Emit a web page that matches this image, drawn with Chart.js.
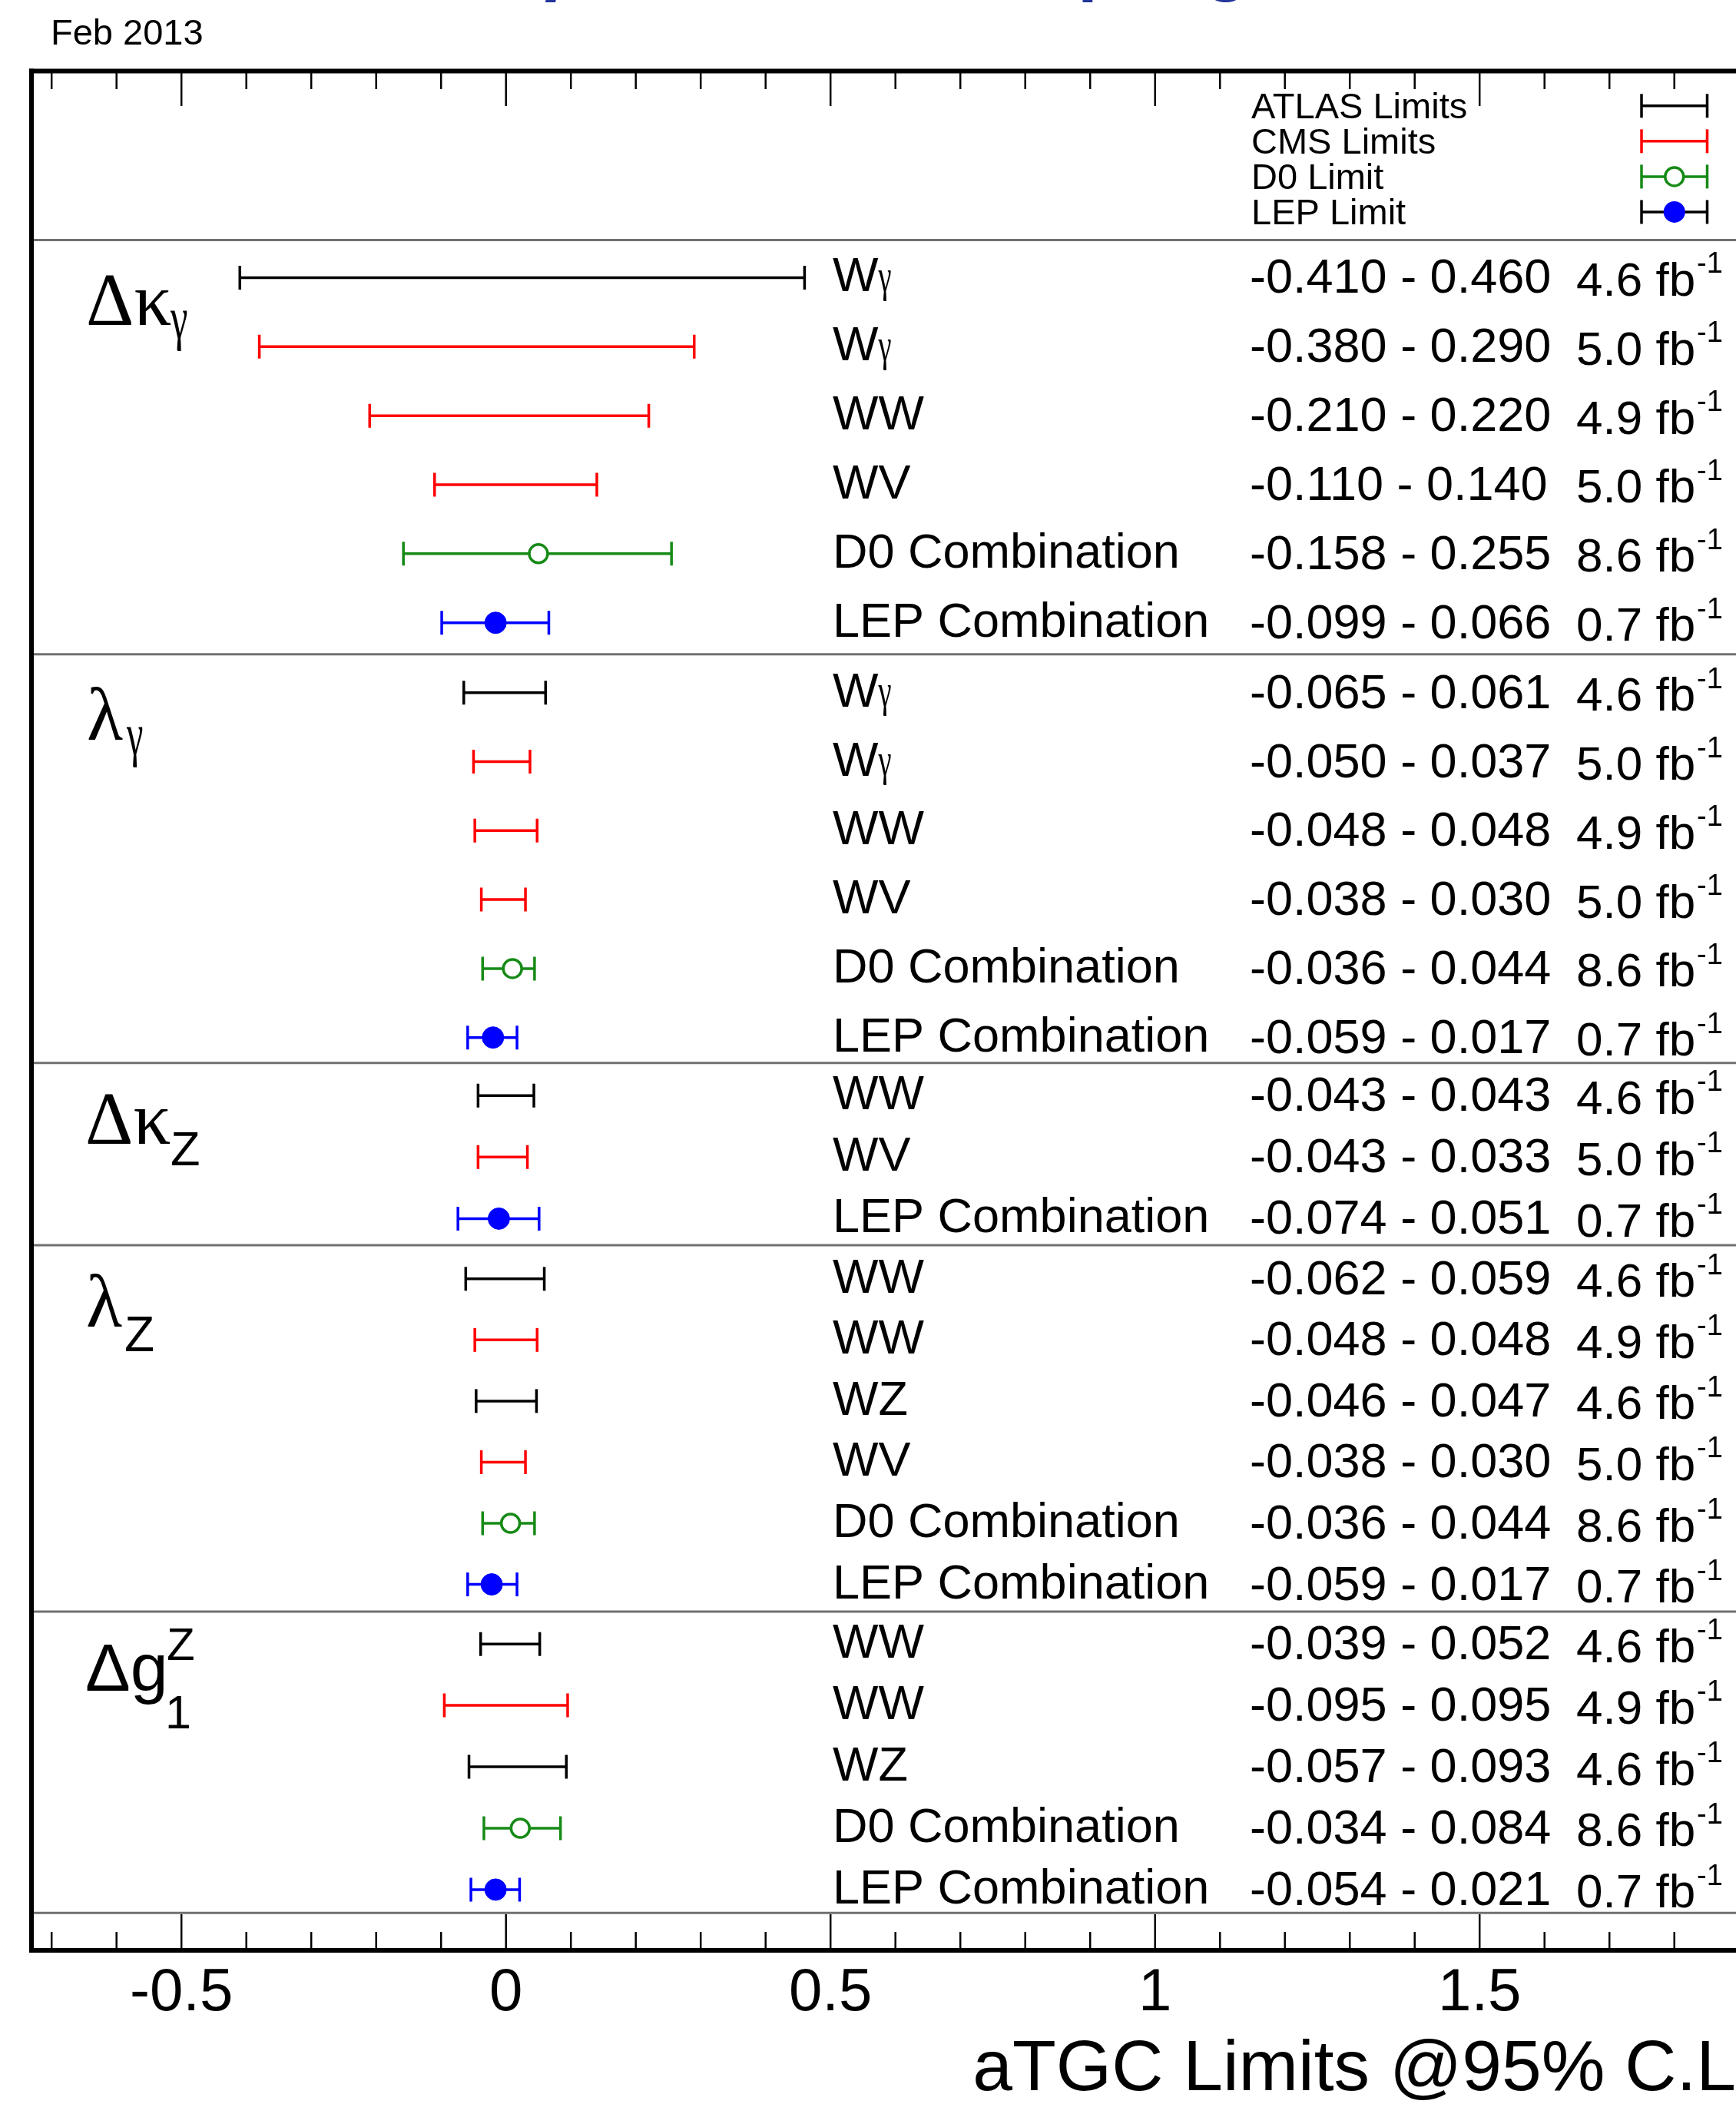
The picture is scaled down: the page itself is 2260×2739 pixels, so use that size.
<!DOCTYPE html>
<html>
<head>
<meta charset="utf-8">
<script src="https://cdn.jsdelivr.net/npm/chart.js@4.4.1/dist/chart.umd.min.js"></script>
<style>
html,body{margin:0;padding:0;background:#fff;overflow:hidden}
canvas{display:block}
</style>
</head>
<body>
<canvas id="c" width="2260" height="2739" style="width:2260px;height:2739px"></canvas>
<script>
// ================= DATA =================
const xTickLabels = [-0.5, 0, 0.5, 1, 1.5];
const legendLabels = ['ATLAS Limits', 'CMS Limits', 'D0 Limit', 'LEP Limit'];
const legendExp = ['ATLAS', 'CMS', 'D0', 'LEP'];

// Delta kappa_gamma
const dkg_proc = ['Wγ', 'Wγ', 'WW', 'WV', 'D0 Combination', 'LEP Combination'];
const dkg_exp  = ['ATLAS', 'CMS', 'CMS', 'CMS', 'D0', 'LEP'];
const dkg_lo   = [-0.410, -0.380, -0.210, -0.110, -0.158, -0.099];
const dkg_hi   = [0.460, 0.290, 0.220, 0.140, 0.255, 0.066];
const dkg_best = [null, null, null, null, 0.050, -0.016];
const dkg_lumi = ['4.6', '5.0', '4.9', '5.0', '8.6', '0.7'];

// lambda_gamma
const lg_proc = ['Wγ', 'Wγ', 'WW', 'WV', 'D0 Combination', 'LEP Combination'];
const lg_exp  = ['ATLAS', 'CMS', 'CMS', 'CMS', 'D0', 'LEP'];
const lg_lo   = [-0.065, -0.050, -0.048, -0.038, -0.036, -0.059];
const lg_hi   = [0.061, 0.037, 0.048, 0.030, 0.044, 0.017];
const lg_best = [null, null, null, null, 0.010, -0.020];
const lg_lumi = ['4.6', '5.0', '4.9', '5.0', '8.6', '0.7'];

// Delta kappa_Z
const dkz_proc = ['WW', 'WV', 'LEP Combination'];
const dkz_exp  = ['ATLAS', 'CMS', 'LEP'];
const dkz_lo   = [-0.043, -0.043, -0.074];
const dkz_hi   = [0.043, 0.033, 0.051];
const dkz_best = [null, null, -0.011];
const dkz_lumi = ['4.6', '5.0', '0.7'];

// lambda_Z
const lz_proc = ['WW', 'WW', 'WZ', 'WV', 'D0 Combination', 'LEP Combination'];
const lz_exp  = ['ATLAS', 'CMS', 'ATLAS', 'CMS', 'D0', 'LEP'];
const lz_lo   = [-0.062, -0.048, -0.046, -0.038, -0.036, -0.059];
const lz_hi   = [0.059, 0.048, 0.047, 0.030, 0.044, 0.017];
const lz_best = [null, null, null, null, 0.007, -0.022];
const lz_lumi = ['4.6', '4.9', '4.6', '5.0', '8.6', '0.7'];

// Delta g1^Z
const dg_proc = ['WW', 'WW', 'WZ', 'D0 Combination', 'LEP Combination'];
const dg_exp  = ['ATLAS', 'CMS', 'ATLAS', 'D0', 'LEP'];
const dg_lo   = [-0.039, -0.095, -0.057, -0.034, -0.054];
const dg_hi   = [0.052, 0.095, 0.093, 0.084, 0.021];
const dg_best = [null, null, null, 0.022, -0.016];
const dg_lumi = ['4.6', '4.9', '4.6', '8.6', '0.7'];

// ================= STYLE / LAYOUT =================
const SANS = '"Liberation Sans", Arial, Helvetica, sans-serif';
const SERIF = '"Liberation Serif", "Times New Roman", serif';
const GREEN = '#168a16';
const expColor = { ATLAS: '#000000', CMS: '#ff0000', D0: GREEN, LEP: '#0000ff' };
const legendBarColor = { ATLAS: '#000000', CMS: '#ff0000', D0: GREEN, LEP: '#000000' };

const sections = [
  { id: 's1', proc: dkg_proc, exp: dkg_exp, lo: dkg_lo, hi: dkg_hi, best: dkg_best, lumi: dkg_lumi },
  { id: 's2', proc: lg_proc,  exp: lg_exp,  lo: lg_lo,  hi: lg_hi,  best: lg_best,  lumi: lg_lumi },
  { id: 's3', proc: dkz_proc, exp: dkz_exp, lo: dkz_lo, hi: dkz_hi, best: dkz_best, lumi: dkz_lumi },
  { id: 's4', proc: lz_proc,  exp: lz_exp,  lo: lz_lo,  hi: lz_hi,  best: lz_best,  lumi: lz_lumi },
  { id: 's5', proc: dg_proc,  exp: dg_exp,  lo: dg_lo,  hi: dg_hi,  best: dg_best,  lumi: dg_lumi }
];

// vertical stacking of the panels (weights = relative heights)
const panelLayout = {
  yLeg:  { w: 220.0, order: 7, min: -0.983, max: 3.794 },
  s1:    { w: 539.3, order: 6, min: -0.544, max: 5.457 },
  s2:    { w: 532.0, order: 5, min: -0.556, max: 5.369 },
  s3:    { w: 237.3, order: 4, min: -0.529, max: 2.433 },
  s4:    { w: 476.9, order: 3, min: -0.549, max: 5.445 },
  s5:    { w: 392.3, order: 2, min: -0.527, max: 4.380 },
  strip: { w: 48.7,  order: 1, min: 0, max: 1 }
};

const xRange = [-0.731, 1.895];

// ================= DATASETS =================
const datasets = [];
sections.forEach(sec => {
  sec.lo.forEach((lo, i) => {
    const col = expColor[sec.exp[i]];
    datasets.push({
      showLine: true,
      data: [{ x: lo, y: i }, { x: sec.hi[i], y: i }],
      yAxisID: sec.id, xAxisID: 'x',
      borderColor: col, borderWidth: 3.5,
      pointStyle: 'line', pointRotation: 90, pointRadius: 15.5,
      pointBorderColor: col, pointBorderWidth: 3.5,
      order: 2
    });
  });
  sec.best.forEach((b, i) => {
    if (b === null) return;
    const e = sec.exp[i];
    const open = (e === 'D0');
    datasets.push({
      data: [{ x: b, y: i }],
      yAxisID: sec.id, xAxisID: 'x',
      pointStyle: 'circle',
      pointRadius: open ? 12 : 14,
      pointBackgroundColor: open ? '#ffffff' : expColor[e],
      pointBorderColor: expColor[e],
      pointBorderWidth: open ? 3.5 : 1,
      order: 1
    });
  });
});

// ================= HELPERS =================
function put(ctx, s, x, y, size, fam, sx) {
  ctx.save();
  ctx.font = size + 'px ' + fam;
  ctx.textBaseline = 'alphabetic';
  ctx.textAlign = 'left';
  ctx.translate(x, y);
  ctx.scale(sx || 1, 1);
  ctx.fillText(s, 0, 0);
  const w = ctx.measureText(s).width * (sx || 1);
  ctx.restore();
  return w;
}
function drawProc(ctx, s, x, y, size) {
  const parts = s.split(/(γ)/);
  let cx = x;
  parts.forEach(p => {
    if (!p) return;
    if (p === 'γ') cx += put(ctx, p, cx, y - 0.5, size * 0.94, SERIF, 0.65);
    else cx += put(ctx, p, cx, y, size, SANS);
  });
}
function hline(ctx, x1, x2, y) { ctx.beginPath(); ctx.moveTo(x1, y); ctx.lineTo(x2, y); ctx.stroke(); }
function vline(ctx, x, y1, y2) { ctx.beginPath(); ctx.moveTo(x, y1); ctx.lineTo(x, y2); ctx.stroke(); }

const sectionLabel = {
  s1: (ctx, L, T) => { put(ctx, 'Δκ', L + 71, T + 110.5, 97, SERIF); put(ctx, 'γ', L + 181, T + 127.5, 78, SERIF, 0.65); },
  s2: (ctx, L, T) => { put(ctx, 'λ', L + 72, T + 110.7, 97, SERIF); put(ctx, 'γ', L + 124, T + 129.7, 78, SERIF, 0.62); },
  s3: (ctx, L, T) => { put(ctx, 'Δκ', L + 70, T + 104.7, 97, SERIF); put(ctx, 'Z', L + 181, T + 132.7, 63, SANS); },
  s4: (ctx, L, T) => { put(ctx, 'λ', L + 71, T + 105.4, 97, SERIF); put(ctx, 'Z', L + 121, T + 137.4, 64, SANS); },
  s5: (ctx, L, T) => { put(ctx, 'Δg', L + 70, T + 102.5, 88, SANS); put(ctx, 'Z', L + 176, T + 62.5, 60, SANS); put(ctx, '1', L + 174, T + 151.5, 61, SANS); }
};

// ================= PLUGIN =================
const decor = {
  id: 'decor',
  beforeDatasetsDraw(chart) {
    const ctx = chart.ctx, ca = chart.chartArea, xs = chart.scales.x;
    ctx.save();
    // panel separators
    ctx.strokeStyle = '#707070'; ctx.lineWidth = 3;
    ['s1', 's2', 's3', 's4', 's5', 'strip'].forEach(id => hline(ctx, ca.left, ca.right, chart.scales[id].top));
    // inward ticks, top and bottom
    ctx.strokeStyle = '#000'; ctx.lineWidth = 2.5;
    for (let k = -7; k <= 18; k++) {
      const v = k / 10;
      const px = xs.getPixelForValue(v);
      if (px < ca.left + 4 || px > ca.right) continue;
      const major = xTickLabels.some(t => Math.abs(t - v) < 1e-9);
      vline(ctx, px, ca.top, ca.top + (major ? 45.5 : 23.5));
      vline(ctx, px, ca.bottom, ca.bottom - (major ? 47 : 24));
    }
    ctx.restore();
  },
  afterDraw(chart) {
    const ctx = chart.ctx, ca = chart.chartArea;
    ctx.save();
    ctx.fillStyle = '#000';

    // frame
    ctx.strokeStyle = '#000'; ctx.lineWidth = 6;
    hline(ctx, ca.left - 3, ca.right, ca.top);
    hline(ctx, ca.left - 3, ca.right, ca.bottom);
    vline(ctx, ca.left, ca.top - 3, ca.bottom + 3);

    // date
    put(ctx, 'Feb 2013', 66, 58, 47, SANS);

    // (cropped) main title, only descenders visible
    ctx.save();
    ctx.font = 'bold 93px ' + SANS;
    const pre = ctx.measureText('WWγ and WWZ Cou').width;
    ctx.fillStyle = '#223399';
    ctx.textBaseline = 'alphabetic';
    ctx.fillText('WWγ and WWZ Couplings', 1416 - pre - 13, -16);
    ctx.restore();

    // section labels + row texts
    sections.forEach(sec => {
      const ys = chart.scales[sec.id];
      sectionLabel[sec.id](ctx, ca.left, ys.top);
      sec.proc.forEach((p, i) => {
        const cy = ys.getPixelForValue(i);
        drawProc(ctx, p, 1084, cy + 18, 63);
        put(ctx, sec.lo[i].toFixed(3) + ' - ' + sec.hi[i].toFixed(3), 1627, cy + 20, 63, SANS);
        const w = put(ctx, sec.lumi[i] + ' fb', 2052, cy + 23.5, 62, SANS);
        put(ctx, '-1', 2052 + w + 2, cy - 6, 38, SANS);
      });
    });

    // legend
    const yl = chart.scales.yLeg;
    const lx1 = 2137, lx2 = 2222.5, lxc = (lx1 + lx2) / 2;
    legendLabels.forEach((lab, i) => {
      const cy = yl.getPixelForValue(i);
      ctx.fillStyle = '#000';
      put(ctx, lab, 1629, cy + 16.5, 47, SANS);
      const e = legendExp[i];
      ctx.strokeStyle = legendBarColor[e]; ctx.lineWidth = 3.5;
      hline(ctx, lx1, lx2, cy);
      vline(ctx, lx1, cy - 15.5, cy + 15.5);
      vline(ctx, lx2, cy - 15.5, cy + 15.5);
      if (e === 'D0') {
        ctx.beginPath(); ctx.arc(lxc, cy, 12, 0, Math.PI * 2);
        ctx.fillStyle = '#fff'; ctx.fill();
        ctx.strokeStyle = GREEN; ctx.stroke();
      } else if (e === 'LEP') {
        ctx.beginPath(); ctx.arc(lxc, cy, 14, 0, Math.PI * 2);
        ctx.fillStyle = expColor.LEP; ctx.fill();
      }
    });
    ctx.restore();
  }
};

// ================= SCALES =================
const scales = {
  x: {
    type: 'linear', position: 'bottom',
    min: xRange[0], max: xRange[1],
    afterBuildTicks: ax => { ax.ticks = xTickLabels.map(v => ({ value: v })); },
    afterFit: ax => { ax.height = 200; ax.paddingLeft = 0; ax.paddingRight = 0; ax.paddingTop = 0; ax.paddingBottom = 0; },
    grid: { display: false },
    border: { display: false },
    ticks: {
      color: '#000', padding: 2, maxRotation: 0, autoSkip: false,
      font: { family: SANS, size: 78, lineHeight: 1.2 },
      callback: v => String(v)
    },
    title: {
      display: true, text: 'aTGC Limits @95% C.L', align: 'end', color: '#000',
      font: { family: SANS, size: 93, lineHeight: 0.9 },
      padding: { top: 0, bottom: 1.4 }
    }
  }
};
Object.keys(panelLayout).forEach(id => {
  const p = panelLayout[id];
  scales[id] = {
    type: 'linear', position: 'left', stack: 'rows', stackWeight: p.w, weight: p.order,
    reverse: true, min: p.min, max: p.max, display: false
  };
});

new Chart(document.getElementById('c'), {
  type: 'scatter',
  data: { datasets },
  options: {
    responsive: false, maintainAspectRatio: false, devicePixelRatio: 1,
    animation: false, events: [],
    layout: { autoPadding: false, padding: { left: 41, right: 0, top: 92.5, bottom: 0 } },
    plugins: { legend: { display: false }, tooltip: { enabled: false }, title: { display: false } },
    scales
  },
  plugins: [decor]
});
</script>
</body>
</html>
